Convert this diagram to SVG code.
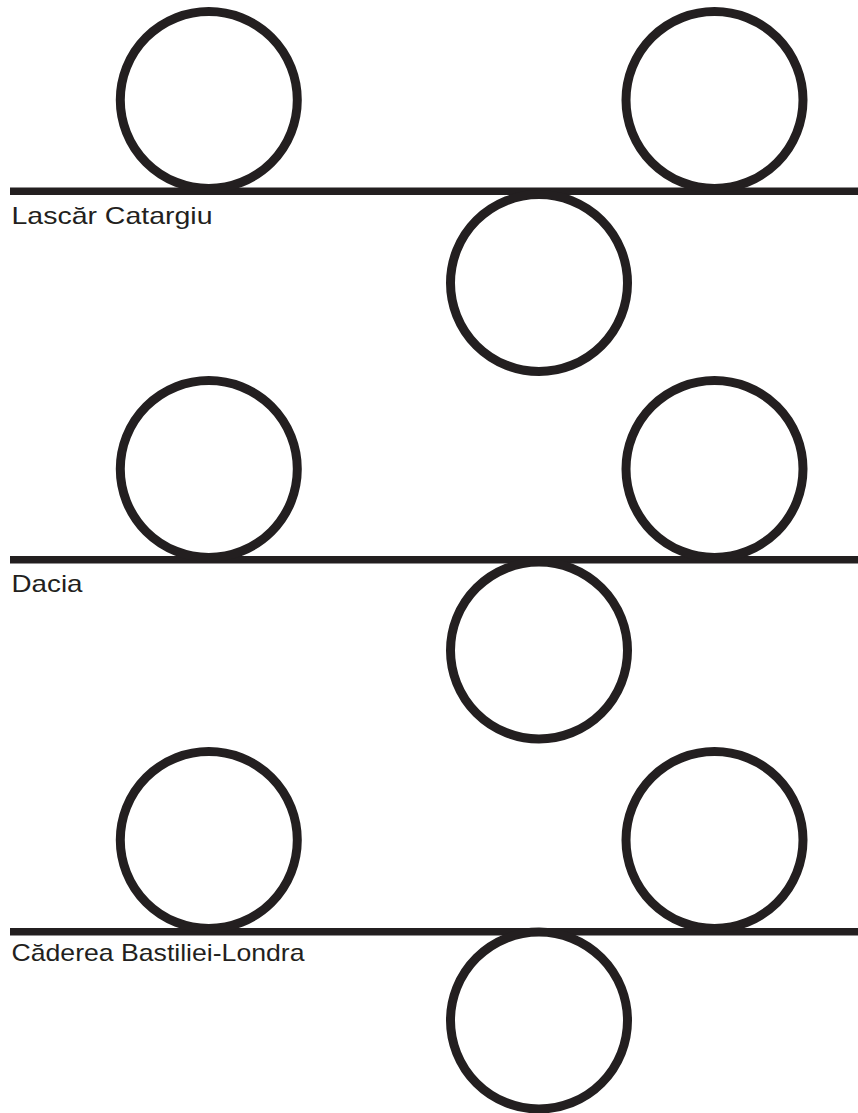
<svg xmlns="http://www.w3.org/2000/svg" width="858" height="1113" viewBox="0 0 858 1113">
  <style>
    .ring { fill: none; stroke: #231f20; stroke-width: 9; }
    .track { stroke: #231f20; stroke-width: 7.5; fill: none; }
    .label { font-family: "Liberation Sans", Arial, sans-serif; font-size: 24px; fill: #231f20; }
  </style>
  <rect x="0" y="0" width="858" height="1113" fill="#ffffff"/>
  <g id="connectors">
    <line class="track" x1="10" y1="191.2" x2="858" y2="191.2"/>
    <line class="track" x1="10" y1="559.7" x2="858" y2="559.7"/>
    <line class="track" x1="10" y1="931.7" x2="858" y2="931.7"/>
  </g>
  <g id="group1">
    <g id="c1a"><circle class="ring" cx="208.8" cy="100" r="88.5"/></g>
    <g id="c1b"><circle class="ring" cx="714.5" cy="100" r="88.5"/></g>
    <g id="c1c"><circle class="ring" cx="539" cy="283" r="88.5"/></g>
    <g id="t1"><text class="label" x="11.5" y="224" textLength="201" lengthAdjust="spacingAndGlyphs">Lascăr Catargiu</text></g>
  </g>
  <g id="group2">
    <g id="c2a"><circle class="ring" cx="208.8" cy="469" r="88.5"/></g>
    <g id="c2b"><circle class="ring" cx="714.5" cy="469" r="88.5"/></g>
    <g id="c2c"><circle class="ring" cx="539" cy="650.5" r="88.5"/></g>
    <g id="t2"><text class="label" x="11.5" y="591.5" textLength="71" lengthAdjust="spacingAndGlyphs">Dacia</text></g>
  </g>
  <g id="group3">
    <g id="c3a"><circle class="ring" cx="208.8" cy="840" r="88.5"/></g>
    <g id="c3b"><circle class="ring" cx="714.5" cy="840" r="88.5"/></g>
    <g id="c3c"><circle class="ring" cx="539" cy="1020.5" r="88.5"/></g>
    <g id="t3"><text class="label" x="11.5" y="961" textLength="293" lengthAdjust="spacingAndGlyphs">Căderea Bastiliei-Londra</text></g>
  </g>
</svg>
